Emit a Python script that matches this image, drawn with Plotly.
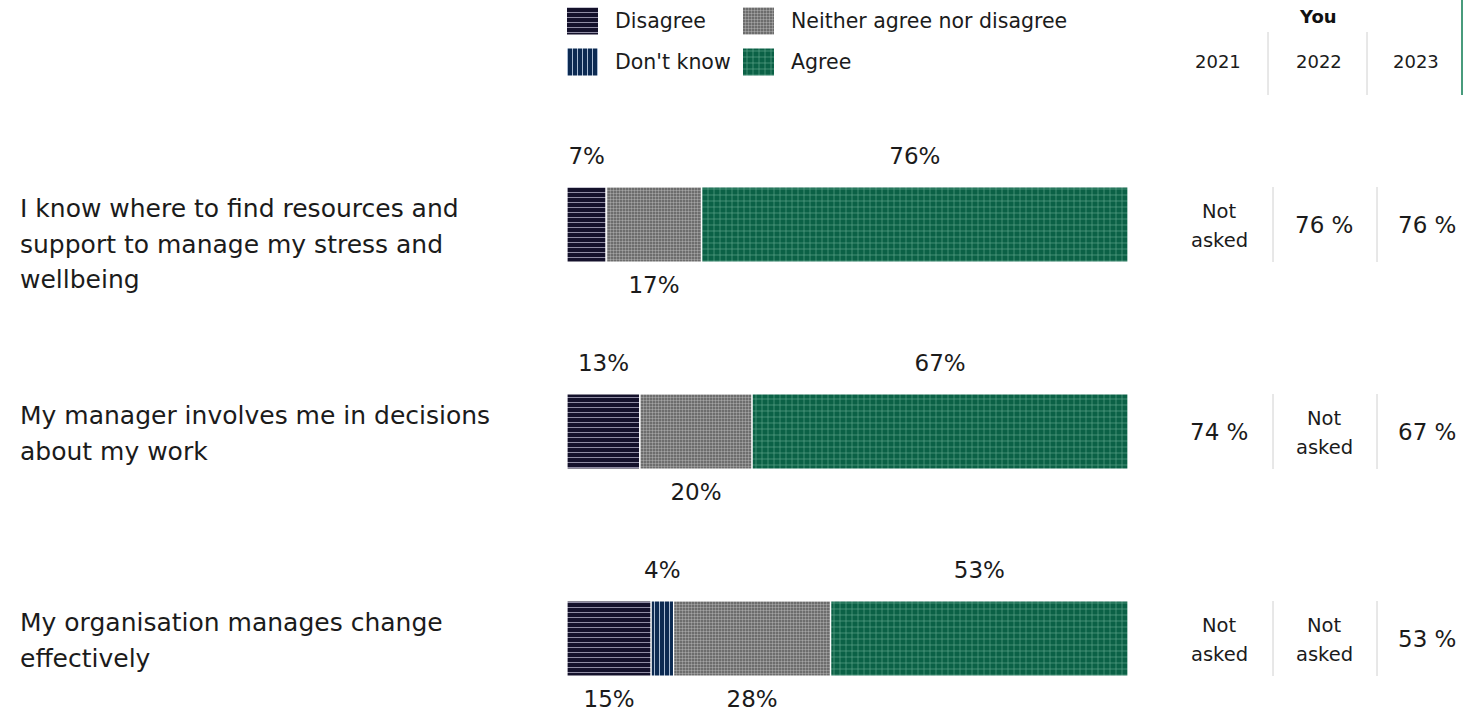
import numpy as np
import plotly.graph_objects as go

# ---------------- data ----------------
questions = [
    "I know where to find resources and<br>support to manage my stress and<br>wellbeing",
    "My manager involves me in decisions<br>about my work",
    "My organisation manages change<br>effectively",
]
categories = ["Disagree", "Don't know", "Neither agree nor disagree", "Agree"]
disagree = [7, 13, 15]
dont_know = [0, 0, 4]
neither = [17, 20, 28]
agree = [76, 67, 53]

years = ["2021", "2022", "2023"]
you_2021 = ["Not<br>asked", "74 %", "Not<br>asked"]
you_2022 = ["76 %", "Not<br>asked", "Not<br>asked"]
you_2023 = ["76 %", "67 %", "53 %"]

# ---------------- styles ----------------
W, H = 1468, 713
FONT = "DejaVu Sans"
TXT = "#1b1b1b"
styles = {
    "Disagree": dict(bg="#14112b", fg="#8f8ca3", shape="-", size=5, sol=0.2),
    "Don't know": dict(bg="#0c2a52", fg="#a9bbd3", shape="|", size=5, sol=0.2),
    "Neither agree nor disagree": dict(bg="#5a5a5a", fg="#a4a4a4", shape=".", size=3, sol=0.5),
    "Agree": dict(bg="#0b6146", fg="#6aae94", shape="+", size=6, sol=0.18),
}

px_per_row = 207.0
row0_px = 224.5
bar_px = 75.0
y_top = (0 - row0_px) / px_per_row
y_bot = (H - row0_px) / px_per_row
bar_w = bar_px / px_per_row


def py(p):
    return 1 - p / H


def pxx(p):
    return p / W


fig = go.Figure()

values = np.array([disagree, dont_know, neither, agree], dtype=float)
bases = np.vstack([np.zeros(len(questions)), np.cumsum(values, axis=0)[:-1]])
rows = list(range(len(questions)))

for k, cat in enumerate(categories):
    s = styles[cat]
    fig.add_trace(go.Bar(
        orientation="h", y=rows, x=values[k], base=bases[k], width=bar_w,
        marker=dict(color=s["bg"], line=dict(color="white", width=1.2),
                    pattern=dict(shape=s["shape"], bgcolor=s["bg"], fgcolor=s["fg"],
                                 size=s["size"], solidity=s["sol"], fillmode="replace")),
        showlegend=False, hoverinfo="skip", xaxis="x", yaxis="y",
    ))

# percent labels, alternating from the last non-zero segment
lx, ly, lt = [], [], []
for i in rows:
    nz = [k for k in range(len(categories)) if values[k][i] > 0]
    for j, k in enumerate(reversed(nz)):
        above = (j % 2 == 0)
        v = values[k][i]
        lx.append(float(bases[k][i] + v / 2))
        ly.append(i + (-66.5 / px_per_row if above else 62.5 / px_per_row))
        lt.append(f"{int(v)}%")
fig.add_trace(go.Scatter(
    x=lx, y=ly, text=lt, mode="text", textposition="middle center",
    textfont=dict(family=FONT, size=23, color=TXT),
    showlegend=False, hoverinfo="skip", xaxis="x", yaxis="y", cliponaxis=False,
))

# legend swatches on a pixel-space axis
legend_pos = {
    "Disagree": (567, 21, 613),
    "Neither agree nor disagree": (743, 21, 789),
    "Don't know": (567, 62, 613),
    "Agree": (743, 62, 789),
}
ann = []
for cat in categories:
    s = styles[cat]
    x0, yc, tx = legend_pos[cat]
    fig.add_trace(go.Bar(
        orientation="h", y=[yc], x=[31], base=[x0], width=27,
        marker=dict(color=s["bg"], line=dict(width=0),
                    pattern=dict(shape=s["shape"], bgcolor=s["bg"], fgcolor=s["fg"],
                                 size=s["size"], solidity=s["sol"], fillmode="replace")),
        showlegend=False, hoverinfo="skip", xaxis="x2", yaxis="y2",
    ))
    ann.append(dict(xref="paper", yref="paper", x=pxx(tx), y=py(yc), text=cat,
                    showarrow=False, xanchor="left", yanchor="middle",
                    font=dict(family=FONT, size=20.5, color=TXT)))

# question text
for i, q in enumerate(questions):
    for li, line in enumerate(q.split("<br>")):
        yy = i + (-16.0 + 35.5 * li) / px_per_row
        ann.append(dict(xref="paper", yref="y", x=pxx(18), y=yy, text=line,
                        showarrow=False, xanchor="left", yanchor="middle",
                        font=dict(family=FONT, size=25, color=TXT)))

# table
col_hdr = [1218, 1319, 1416]
col_row = [1219, 1324, 1427]
ann.append(dict(xref="paper", yref="paper", x=pxx(1318), y=py(16), text="<b>You</b>",
                showarrow=False, xanchor="center", yanchor="middle",
                font=dict(family=FONT, size=18, color="#111111")))
for c, yr in enumerate(years):
    ann.append(dict(xref="paper", yref="paper", x=pxx(col_hdr[c]), y=py(62), text=yr,
                    showarrow=False, xanchor="center", yanchor="middle",
                    font=dict(family=FONT, size=18, color=TXT)))
for c, col in enumerate([you_2021, you_2022, you_2023]):
    for i, v in enumerate(col):
        parts = v.split("<br>")
        if len(parts) == 1:
            ann.append(dict(xref="paper", yref="y", x=pxx(col_row[c]), y=i, text=v,
                            showarrow=False, xanchor="center", yanchor="middle",
                            font=dict(family=FONT, size=23, color=TXT)))
        else:
            for li, part in enumerate(parts):
                yy = i + (-13.5 + 29 * li) / px_per_row
                ann.append(dict(xref="paper", yref="y", x=pxx(col_row[c]), y=yy,
                                text=part, showarrow=False, xanchor="center",
                                yanchor="middle",
                                font=dict(family=FONT, size=19.5, color=TXT)))

shapes = []
for xs in [1268, 1367]:
    shapes.append(dict(type="line", xref="paper", yref="paper", x0=pxx(xs), x1=pxx(xs),
                       y0=py(32), y1=py(95), line=dict(color="#d0d0d0", width=1)))
shapes.append(dict(type="line", xref="paper", yref="paper", x0=pxx(1462), x1=pxx(1462),
                   y0=py(0), y1=py(95), line=dict(color="#0b7a50", width=1.5)))
for i in rows:
    for xs in [1273, 1377]:
        shapes.append(dict(type="line", xref="paper", yref="y", x0=pxx(xs), x1=pxx(xs),
                           y0=i - bar_w / 2, y1=i + bar_w / 2,
                           line=dict(color="#d0d0d0", width=1)))

fig.update_layout(
    width=W, height=H, margin=dict(l=0, r=0, t=0, b=0),
    paper_bgcolor="white", plot_bgcolor="rgba(0,0,0,0)",
    barmode="overlay", showlegend=False,
    xaxis=dict(domain=[pxx(567), pxx(1128)], range=[0, 100], visible=False, fixedrange=True),
    yaxis=dict(domain=[0, 1], range=[y_bot, y_top], visible=False, fixedrange=True),
    xaxis2=dict(domain=[0, 1], range=[0, W], visible=False, anchor="y2", fixedrange=True),
    yaxis2=dict(domain=[0, 1], range=[H, 0], visible=False, anchor="x2", fixedrange=True),
    annotations=ann, shapes=shapes,
    font=dict(family=FONT, color=TXT),
)

fig.write_html("out.html", config={"displayModeBar": False},
               post_script="document.body.style.margin='0px';")
